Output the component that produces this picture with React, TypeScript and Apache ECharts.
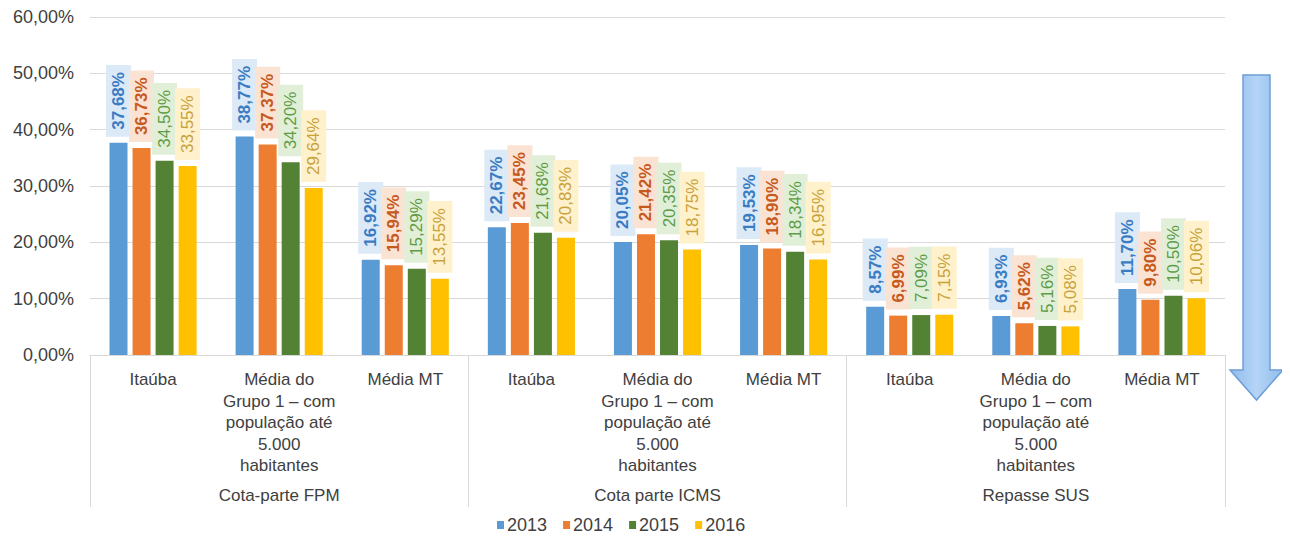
import React, { useEffect, useRef } from "react";
import * as echarts from "echarts";

const categories = [
  "Itaúba",
  "Média do\nGrupo 1 – com\npopulação até\n5.000\nhabitantes",
  "Média MT",
  "Itaúba",
  "Média do\nGrupo 1 – com\npopulação até\n5.000\nhabitantes",
  "Média MT",
  "Itaúba",
  "Média do\nGrupo 1 – com\npopulação até\n5.000\nhabitantes",
  "Média MT",
];
const groups = ["Cota-parte FPM", "Cota parte ICMS", "Repasse SUS"];
const years = ["2013", "2014", "2015", "2016"];
const values2013 = [37.68, 38.77, 16.92, 22.67, 20.05, 19.53, 8.57, 6.93, 11.7];
const values2014 = [36.73, 37.37, 15.94, 23.45, 21.42, 18.9, 6.99, 5.62, 9.8];
const values2015 = [34.5, 34.2, 15.29, 21.68, 20.35, 18.34, 7.09, 5.16, 10.5];
const values2016 = [33.55, 29.64, 13.55, 20.83, 18.75, 16.95, 7.15, 5.08, 10.06];

const seriesValues = [values2013, values2014, values2015, values2016];
const barColors = ["#5b9bd5", "#ed7d31", "#548235", "#ffc000"];
const labelColors = ["#3a7cc3", "#c65a1c", "#5e9c45", "#c8a23a"];
const labelBgs = ["#dce9f6", "#fbe3d4", "#e1efd8", "#fff1cb"];
const labelWeights = ["bold", "bold", "normal", "normal"];

const FONT = "'Liberation Sans', Arial, sans-serif";

const fmt = (v: number) => v.toFixed(2).replace(".", ",") + "%";

export default function App() {
  const ref = useRef<HTMLDivElement>(null);
  useEffect(() => {
    if (!ref.current) return;
    const chart = echarts.init(ref.current, null, { renderer: "svg" });
    const series = years.map((y, i) => ({
      name: y,
      type: "bar",
      xAxisIndex: 0,
      data: seriesValues[i],
      barWidth: 18,
      barGap: "28%",
      itemStyle: { color: barColors[i] },
      label: {
        show: true,
        position: "top",
        distance: 6,
        rotate: 90,
        align: "left",
        verticalAlign: "middle",
        formatter: (p: any) => fmt(p.value),
        color: labelColors[i],
        fontWeight: labelWeights[i],
        fontSize: 17,
        fontFamily: FONT,
        backgroundColor: labelBgs[i],
        padding: [4, 7],
      },
    }));
    chart.setOption({
      animation: false,
      grid: { left: 90, right: 65, top: 17, bottom: 184, containLabel: false },
      legend: {
        data: years,
        left: 497,
        top: 516,
        padding: 0,
        icon: "rect",
        itemWidth: 7,
        itemHeight: 8,
        itemGap: 16,
        textStyle: { fontSize: 18, color: "#404040", fontFamily: FONT, padding: [0, 0, 0, -2] },
      },
      xAxis: [
        {
          type: "category",
          data: categories,
          position: "bottom",
          axisLine: { show: true, lineStyle: { color: "#d9d9d9" } },
          axisTick: { show: false },
          axisLabel: {
            interval: 0,
            margin: 14,
            fontSize: 17,
            lineHeight: 21.5,
            color: "#404040",
            fontFamily: FONT,
            align: "center",
          },
        },
        {
          type: "category",
          data: groups,
          position: "bottom",
          axisLine: { show: false },
          axisTick: {
            show: true,
            interval: 0,
            length: 152,
            lineStyle: { color: "#d9d9d9" },
          },
          axisLabel: {
            interval: 0,
            margin: 132,
            fontSize: 17,
            color: "#404040",
            fontFamily: FONT,
          },
        },
      ],
      yAxis: {
        type: "value",
        min: 0,
        max: 60,
        interval: 10,
        axisLine: { show: false },
        axisTick: { show: false },
        splitLine: { lineStyle: { color: "#d9d9d9" } },
        axisLabel: {
          formatter: (v: number) => fmt(v),
          fontSize: 18,
          color: "#404040",
          fontFamily: FONT,
          margin: 16,
        },
      },
      series,
      graphic: [
        {
          type: "polygon",
          shape: {
            points: [
              [1243, 75],
              [1270, 75],
              [1270, 370],
              [1283, 370],
              [1256.5, 400],
              [1230, 370],
              [1243, 370],
            ],
          },
          style: {
            fill: new echarts.graphic.LinearGradient(0, 0, 1, 0, [
              { offset: 0, color: "#8fbcec" },
              { offset: 0.5, color: "#b5d4f6" },
              { offset: 1, color: "#8fbcec" },
            ]),
            stroke: "#6c9fd6",
            lineWidth: 1.5,
          },
        },
      ],
    });
    return () => chart.dispose();
  }, []);
  return <div ref={ref} style={{ width: 1290, height: 539, margin: -8 }} />;
}
